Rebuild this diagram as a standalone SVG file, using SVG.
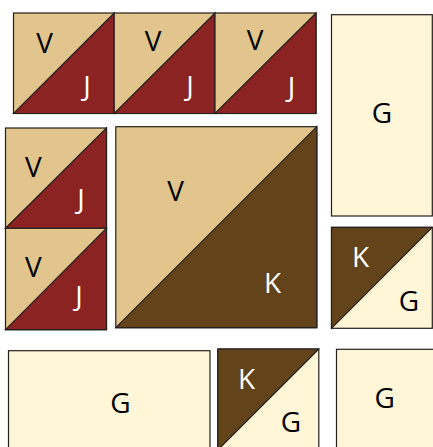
<svg xmlns="http://www.w3.org/2000/svg" width="433" height="447" viewBox="0 0 433 447">
<style>
.o{stroke:#231f1c;stroke-width:1.2;stroke-linejoin:miter}
.tan{fill:#e2c58d}
.red{fill:#8b2323}
.brn{fill:#62431a}
.crm{fill:#fff5d7}
text{font-family:"Open Sans","Noto Sans",sans-serif;font-size:28px;text-anchor:middle}
.d{fill:#000}
.w{fill:#fff}
</style>
<rect width="433" height="447" fill="#fff"/>
<g id="hst1">
<rect class="o tan" x="13.5" y="13" width="100.7" height="100.5"/>
<polygon class="o red" points="13.5,113.5 114.2,13 114.2,113.5"/>
<text class="d" x="44.5" y="53">V</text><text class="w" x="87" y="96">J</text>
</g>
<g id="hst2">
<rect class="o tan" x="114.2" y="13" width="100.8" height="100.5"/>
<polygon class="o red" points="114.2,113.5 215,13 215,113.5"/>
<text class="d" x="153" y="51">V</text><text class="w" x="190" y="96">J</text>
</g>
<g id="hst3">
<rect class="o tan" x="215" y="13" width="101" height="100.5"/>
<polygon class="o red" points="215,113.5 316,13 316,113.5"/>
<text class="d" x="255" y="50">V</text><text class="w" x="291.5" y="97">J</text>
</g>
<g id="g-rect-right">
<rect class="o crm" x="331.5" y="14.7" width="100.8" height="201.3"/>
<text class="crm" style="fill:#000" x="382" y="122.5">G</text>
</g>
<g id="hst4">
<rect class="o tan" x="5.5" y="128" width="101" height="100.3"/>
<polygon class="o red" points="5.5,228.3 106.5,128 106.5,228.3"/>
<text class="d" x="33.3" y="176.7">V</text><text class="w" x="81" y="209">J</text>
</g>
<g id="hst5">
<rect class="o tan" x="5.5" y="228.3" width="101" height="101.4"/>
<polygon class="o red" points="5.5,329.7 106.5,228.3 106.5,329.7"/>
<text class="d" x="33.3" y="276.7">V</text><text class="w" x="79" y="306">J</text>
</g>
<g id="hst-big">
<rect class="o tan" x="115.8" y="126.7" width="201" height="201"/>
<polygon class="o brn" points="115.8,327.7 316.8,126.7 316.8,327.7"/>
<text class="d" x="175.5" y="200.7">V</text><text class="w" x="272.7" y="293.3">K</text>
</g>
<g id="hst-kg1">
<rect class="o crm" x="331.5" y="227.4" width="100.8" height="100.9"/>
<polygon class="o brn" points="331.5,328.3 331.5,227.4 432.3,227.4"/>
<text class="w" x="360.5" y="266.7">K</text><text class="d" x="409" y="310.7">G</text>
</g>
<g id="g-rect-bottom">
<rect class="o crm" x="8.5" y="350.7" width="201.5" height="110"/>
<text class="d" x="120.5" y="413.3">G</text>
</g>
<g id="hst-kg2">
<rect class="o crm" x="217.8" y="349" width="101" height="101"/>
<polygon class="o brn" points="217.8,450 217.8,349 318.8,349"/>
<text class="w" x="246.7" y="389.3">K</text><text class="d" x="291" y="431.7">G</text>
</g>
<g id="g-square-bottom">
<rect class="o crm" x="336.5" y="349.3" width="110" height="110"/>
<text class="d" x="384.7" y="408.3">G</text>
</g>
<g id="connectors"></g>
</svg>
